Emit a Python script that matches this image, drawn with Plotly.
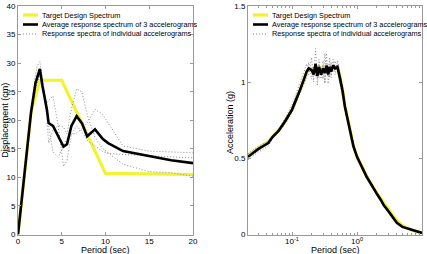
import plotly.graph_objects as go

# ---------------- Left panel: displacement spectra ----------------
period_disp = [0, 0.5, 1.0, 1.5, 2.0, 2.2, 2.5, 2.8, 3.3, 3.5, 4.0, 4.6, 5.2, 5.6, 6.1,
               6.7, 7.3, 7.9, 8.8, 9.7, 10.3, 12, 15, 17.5, 20]
avg_disp = [0, 7.0, 14.5, 21.5, 26.5, 27.5, 29.0, 26.0, 21.9, 19.5, 19.0, 17.2, 15.4, 15.8, 19.0,
            20.7, 19.5, 17.2, 18.4, 16.7, 16.0, 14.6, 13.7, 13.0, 12.5]
rec1_disp = [0, 7.2, 15.0, 22.0, 28.0, 29.5, 30.3, 27.0, 22.0, 19.0, 14.5, 13.5, 15.5, 16.8, 17.5,
             17.8, 18.5, 19.5, 21.9, 21.0, 19.5, 15.5, 14.6, 14.4, 14.3]
rec2_disp = [0, 6.8, 14.0, 21.0, 26.0, 26.5, 28.0, 25.0, 23.0, 23.5, 24.2, 19.0, 11.9, 13.0, 17.5,
             19.0, 18.0, 16.5, 15.5, 14.5, 14.2, 14.0, 13.8, 13.6, 13.4]
rec3_disp = [0, 7.0, 14.5, 21.5, 25.5, 26.5, 28.5, 26.0, 20.5, 16.0, 18.3, 19.1, 18.8, 17.6, 22.0,
             25.5, 25.0, 21.0, 17.0, 15.0, 14.3, 12.3, 11.0, 10.8, 10.2]
target_disp_T = [0, 1.5, 2.5, 5.0, 10.0, 20.0]
target_disp = [0, 21.5, 27.0, 27.0, 10.7, 10.5]

# ---------------- Right panel: acceleration spectra ----------------
period_acc = [0.021, 0.03, 0.043, 0.05, 0.062, 0.08, 0.1, 0.115, 0.133, 0.15, 0.168, 0.18, 0.2,
              0.215, 0.23, 0.245, 0.26, 0.28, 0.3, 0.32, 0.34, 0.36, 0.38, 0.4, 0.43, 0.46, 0.5,
              0.55, 0.6, 0.65, 0.7, 0.78, 0.88, 1.0, 1.1, 1.25, 1.4, 1.6, 1.8, 2.0, 2.3, 2.6,
              2.9, 3.3, 3.7, 4.1, 5.0, 6.5, 8.0, 10.0]
avg_acc = [0.51, 0.56, 0.60, 0.64, 0.68, 0.75, 0.82, 0.88, 0.95, 1.01, 1.07, 1.09, 1.08,
           1.05, 1.12, 1.04, 1.10, 1.05, 1.09, 1.06, 1.11, 1.05, 1.10, 1.07, 1.11, 1.09, 1.10,
           1.02, 0.94, 0.84, 0.78, 0.69, 0.58, 0.51, 0.47, 0.42, 0.38, 0.34, 0.30, 0.27, 0.23,
           0.19, 0.165, 0.13, 0.10, 0.077, 0.05, 0.033, 0.02, 0.01]
rec1_acc = [0.49, 0.54, 0.58, 0.63, 0.69, 0.77, 0.85, 0.92, 0.99, 1.06, 1.12, 1.05, 1.16,
            1.00, 1.22, 0.98, 1.15, 1.02, 1.14, 1.00, 1.19, 0.99, 1.16, 1.03, 1.15, 1.05, 1.14,
            1.06, 0.98, 0.87, 0.80, 0.70, 0.60, 0.50, 0.46, 0.43, 0.40, 0.35, 0.31, 0.28, 0.24,
            0.20, 0.17, 0.135, 0.10, 0.08, 0.052, 0.034, 0.021, 0.011]
rec2_acc = [0.53, 0.58, 0.61, 0.65, 0.67, 0.73, 0.80, 0.86, 0.92, 0.98, 1.03, 1.13, 1.02,
            1.10, 1.04, 1.11, 1.03, 1.09, 1.02, 1.19, 1.05, 1.12, 1.03, 1.13, 1.07, 1.14, 1.08,
            0.98, 0.90, 0.81, 0.76, 0.67, 0.56, 0.52, 0.48, 0.41, 0.37, 0.33, 0.29, 0.26, 0.22,
            0.18, 0.16, 0.125, 0.098, 0.075, 0.049, 0.032, 0.019, 0.009]
rec3_acc = [0.50, 0.55, 0.60, 0.64, 0.68, 0.75, 0.81, 0.87, 0.94, 1.00, 1.06, 1.10, 1.06,
            1.06, 1.10, 1.03, 1.12, 1.04, 1.11, 0.99, 1.09, 1.04, 1.11, 1.05, 1.12, 1.08, 1.09,
            1.02, 0.94, 0.84, 0.78, 0.70, 0.58, 0.51, 0.47, 0.42, 0.37, 0.34, 0.30, 0.27, 0.23,
            0.19, 0.165, 0.13, 0.10, 0.076, 0.05, 0.033, 0.02, 0.01]
target_acc_T = [0.021, 0.043, 0.07, 0.1, 0.133, 0.168, 0.2, 0.5, 0.55, 0.6, 0.65, 0.7, 0.78,
                0.88, 1.0, 1.25, 1.5, 2.0, 2.5, 3.0, 3.5, 4.0, 5.0, 6.0, 7.0, 8.5, 10.0]
target_acc = [0.52, 0.61, 0.71, 0.82, 0.95, 1.07, 1.09, 1.10, 1.03, 0.95, 0.85, 0.78, 0.69,
              0.58, 0.51, 0.43, 0.36, 0.275, 0.215, 0.17, 0.13, 0.095, 0.058, 0.04, 0.028,
              0.018, 0.011]

legend_labels = ["Target Design Spectrum",
                 "Average response spectrum of 3 accelerograms",
                 "Response spectra of individual accelerograms"]

W, H = 427, 254
FONT = "Liberation Sans, Arial, sans-serif"
YELLOW = "#f2f230"
DOT = "#8c8c8c"
AX = "#999999"
DOTDASH = "1px,2px"

fig = go.Figure()

def add_panel(xa, ya, T, recs, avg, tT, tv):
    fig.add_trace(go.Scatter(x=tT, y=tv, mode="lines", line=dict(color=YELLOW, width=3.2),
                             xaxis=xa, yaxis=ya, showlegend=False))
    for r in recs:
        fig.add_trace(go.Scatter(x=T, y=r, mode="lines",
                                 line=dict(color=DOT, width=1, dash=DOTDASH),
                                 xaxis=xa, yaxis=ya, showlegend=False))
    fig.add_trace(go.Scatter(x=T, y=avg, mode="lines", line=dict(color="black", width=2.6),
                             xaxis=xa, yaxis=ya, showlegend=False))

add_panel("x", "y", period_disp, [rec1_disp, rec2_disp, rec3_disp], avg_disp,
          target_disp_T, target_disp)
add_panel("x2", "y2", period_acc, [rec1_acc, rec2_acc, rec3_acc], avg_acc,
          target_acc_T, target_acc)

def px(x):
    return x / W

def py(y):
    return 1 - y / H

ydom = [py(234.5), py(6)]
common = dict(showline=True, linecolor=AX, linewidth=1, mirror="ticks", ticks="inside",
              ticklen=3, tickcolor=AX, showgrid=False, zeroline=False, automargin=False,
              tickfont=dict(family=FONT, size=8, color="black"))

fig.update_layout(
    width=W, height=H, margin=dict(l=0, r=0, t=0, b=0, autoexpand=False),
    paper_bgcolor="white", plot_bgcolor="white",
    xaxis=dict(domain=[px(18), px(193)], range=[0, 20], tickvals=[0, 5, 10, 15, 20],
               ticklabelstandoff=-1, **common),
    yaxis=dict(domain=ydom, range=[0, 40], tickvals=list(range(0, 41, 5)),
               title=dict(text="Displacement (cm)", standoff=1,
                          font=dict(family=FONT, size=9, color="black")),
               **common),
    xaxis2=dict(domain=[px(248), px(422)], type="log", range=[-1.6778, 1],
                tickvals=[0.1, 1, 10],
                ticktext=["10<sup>-1</sup>", "10<sup>0</sup>", "10<sup>1</sup>"],
                ticklabelstandoff=-1,
                minor=dict(ticks="inside", ticklen=2, tickcolor=AX, tickmode="array",
                           tickvals=[0.03, 0.04, 0.05, 0.06, 0.07, 0.08, 0.09,
                                     0.2, 0.3, 0.4, 0.5, 0.6, 0.7, 0.8, 0.9,
                                     2, 3, 4, 5, 6, 7, 8, 9]),
                anchor="y2", **common),
    yaxis2=dict(domain=ydom, range=[0, 1.5], tickvals=[0, 0.5, 1, 1.5],
                ticktext=["0", "0.5", "1", "1.5"], anchor="x2", **common),
    showlegend=False,
)

ann = []
shapes = []
# axis titles
for cx in (105, 335):
    ann.append(dict(text="Period (sec)", x=px(cx), y=0, xref="paper", yref="paper",
                    xanchor="center", yanchor="bottom", yshift=-3, showarrow=False,
                    font=dict(family=FONT, size=9, color="black")))
ann.append(dict(text="Acceleration (g)", x=px(230), y=py(123), xref="paper", yref="paper",
                showarrow=False, textangle=-90, font=dict(family=FONT, size=9, color="black")))

# legends
styles = [dict(color=YELLOW, width=3.2), dict(color="black", width=2.6),
          dict(color=DOT, width=1, dash=DOTDASH)]
rows = [15, 24.5, 34]
for (x0, x1, xt) in [(23, 38, 39.5), (253, 268, 270)]:
    for lab, st, yy in zip(legend_labels, styles, rows):
        shapes.append(dict(type="line", xref="paper", yref="paper",
                           x0=px(x0), x1=px(x1), y0=py(yy), y1=py(yy), line=st))
        ann.append(dict(text=lab, x=px(xt), y=py(yy), xref="paper", yref="paper",
                        xanchor="left", yanchor="middle", showarrow=False,
                        font=dict(family=FONT, size=7.3, color="black")))

fig.update_layout(annotations=ann, shapes=shapes)
fig.write_html("out.html")
